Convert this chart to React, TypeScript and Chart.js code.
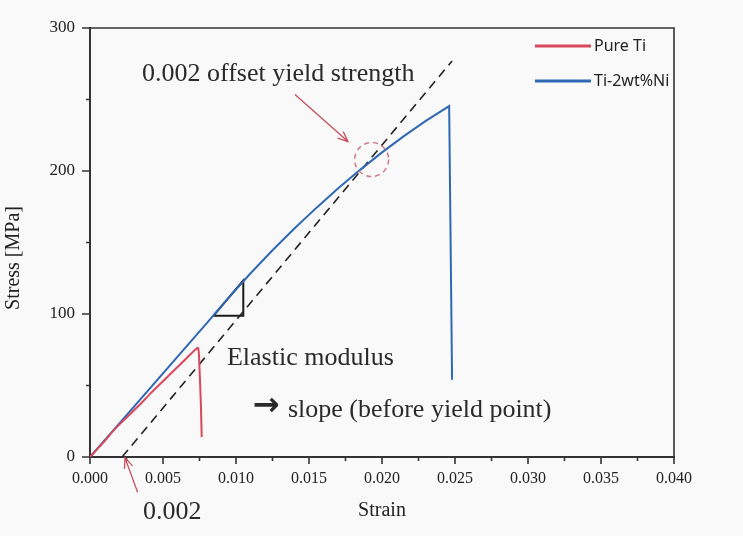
import { useEffect, useRef } from "react";
import { Chart, registerables } from "chart.js";

Chart.register(...registerables);

// ---- data ----
const pureTiStrain = [0, 0.0009, 0.0017, 0.0026, 0.0034, 0.0042, 0.005, 0.0058, 0.0064, 0.0069, 0.0074, 0.0075, 0.0076, 0.00765];
const pureTiStress = [0, 10, 19.5, 28.5, 36.5, 45, 53, 61, 67, 72, 76.3, 62, 35, 14];

const tiNiStrain = [0, 0.002, 0.004, 0.006, 0.008, 0.0095, 0.011, 0.0125, 0.014, 0.0155, 0.017, 0.0185, 0.02, 0.0215, 0.023, 0.0246, 0.0247, 0.0248];
const tiNiStress = [0, 23.4, 46.8, 70.2, 93.6, 111.5, 128.5, 144.6, 159.8, 174.2, 187.9, 200.8, 213, 224.4, 235, 245.4, 150, 54];

const offsetStrain = [0.0022, 0.0248];
const offsetStress = [0, 277];

const triangleStrain = [0.00845, 0.0105, 0.0105, 0.00845];
const triangleStress = [98.7, 123.5, 98.7, 98.7];

const xTickLabels = ["0.000", "0.005", "0.010", "0.015", "0.020", "0.025", "0.030", "0.035", "0.040"];
const yTickLabels = ["0", "100", "200", "300"];

const seriesNames = ["Pure Ti", "Ti-2wt%Ni"];
const seriesColors = ["#d9485a", "#2f68b4"];

const toPoints = (xs: number[], ys: number[]) => xs.map((x, i) => ({ x, y: ys[i] }));

const SERIF = "'Liberation Serif', 'Times New Roman', serif";
const SANS = "'Noto Sans', 'Open Sans', sans-serif";

const drawArrow = (ctx: CanvasRenderingContext2D, x1: number, y1: number, x2: number, y2: number) => {
  const ang = Math.atan2(y2 - y1, x2 - x1);
  const h = 11;
  ctx.beginPath();
  ctx.moveTo(x1, y1);
  ctx.lineTo(x2, y2);
  ctx.moveTo(x2 - h * Math.cos(ang - 0.4), y2 - h * Math.sin(ang - 0.4));
  ctx.lineTo(x2, y2);
  ctx.lineTo(x2 - h * Math.cos(ang + 0.4), y2 - h * Math.sin(ang + 0.4));
  ctx.stroke();
};

const overlayPlugin = {
  id: "overlay",
  beforeDraw(chart: any) {
    const ctx = chart.ctx as CanvasRenderingContext2D;
    ctx.save();
    ctx.fillStyle = "#f9f9f9";
    ctx.fillRect(0, 0, chart.width, chart.height);
    ctx.restore();
  },
  afterDraw(chart: any) {
    const ctx = chart.ctx as CanvasRenderingContext2D;
    const xs = chart.scales.x;
    const ys = chart.scales.y;
    const { left, right, top, bottom } = chart.chartArea;
    const px = (v: number) => xs.getPixelForValue(v);
    const py = (v: number) => ys.getPixelForValue(v);
    ctx.save();

    // frame top/right
    ctx.strokeStyle = "#333";
    ctx.lineWidth = 1.6;
    ctx.beginPath();
    ctx.moveTo(left, top);
    ctx.lineTo(right, top);
    ctx.lineTo(right, bottom);
    ctx.stroke();

    // ticks (outward, major + minor)
    ctx.lineWidth = 1.6;
    ctx.beginPath();
    for (let i = 0; i <= 16; i++) {
      const x = px(i * 0.0025);
      const len = i % 2 === 0 ? 7 : 4;
      ctx.moveTo(x, bottom);
      ctx.lineTo(x, bottom + len);
    }
    for (let i = 0; i <= 6; i++) {
      const y = py(i * 50);
      const len = i % 2 === 0 ? 8 : 4;
      ctx.moveTo(left, y);
      ctx.lineTo(left - len, y);
    }
    ctx.stroke();

    // axis titles
    ctx.fillStyle = "#222";
    ctx.font = `20px ${SERIF}`;
    ctx.textAlign = "center";
    ctx.textBaseline = "middle";
    ctx.fillText("Strain", (left + right) / 2, 511);
    ctx.save();
    ctx.translate(14, 258);
    ctx.rotate(-Math.PI / 2);
    ctx.fillText("Stress [MPa]", 0, 0);
    ctx.restore();

    // dashed circle at yield point
    ctx.strokeStyle = "#d07a88";
    ctx.lineWidth = 1.5;
    ctx.setLineDash([5, 4]);
    ctx.beginPath();
    ctx.arc(px(0.01929), py(208), 17, 0, Math.PI * 2);
    ctx.stroke();
    ctx.setLineDash([]);

    // arrows
    ctx.strokeStyle = "#c4505e";
    ctx.lineWidth = 1.3;
    drawArrow(ctx, px(0.01404), py(253.5), px(0.01767), py(220.6));
    drawArrow(ctx, px(0.00326), py(-24.6), px(0.0024), py(-0.6));

    // annotation texts
    ctx.fillStyle = "#2a2a2a";
    ctx.font = `26px ${SERIF}`;
    ctx.textAlign = "left";
    ctx.textBaseline = "middle";
    ctx.fillText("0.002 offset yield strength", px(0.00356), py(268));
    ctx.fillText("Elastic modulus", px(0.00938), py(69.2));
    ctx.fillText("slope (before yield point)", px(0.01356), py(32.7));
    ctx.fillText("0.002", px(0.00363), py(-38.5));
    ctx.font = `bold 32px 'DejaVu Sans', sans-serif`;
    ctx.fillText("\u2192", px(0.01115), py(35));

    // legend
    ctx.font = `16px ${SANS}`;
    ctx.textBaseline = "middle";
    seriesNames.forEach((name, i) => {
      const y = top + 18 + i * 35;
      ctx.strokeStyle = seriesColors[i];
      ctx.lineWidth = 3;
      ctx.beginPath();
      ctx.moveTo(right - 139, y);
      ctx.lineTo(right - 83, y);
      ctx.stroke();
      ctx.fillStyle = "#222";
      ctx.fillText(name, right - 80, y);
    });

    ctx.restore();
  },
};

export default function App() {
  const ref = useRef<HTMLCanvasElement>(null);

  useEffect(() => {
    if (!ref.current) return;
    const chart = new Chart(ref.current, {
      type: "scatter",
      data: {
        datasets: [
          {
            label: seriesNames[0],
            data: toPoints(pureTiStrain, pureTiStress),
            showLine: true,
            borderColor: seriesColors[0],
            borderWidth: 2,
            pointRadius: 0,
            tension: 0.2,
          },
          {
            label: seriesNames[1],
            data: toPoints(tiNiStrain, tiNiStress),
            showLine: true,
            borderColor: seriesColors[1],
            borderWidth: 2,
            pointRadius: 0,
            tension: 0,
          },
          {
            label: "offset",
            data: toPoints(offsetStrain, offsetStress),
            showLine: true,
            borderColor: "#222",
            borderWidth: 1.6,
            borderDash: [9, 6],
            pointRadius: 0,
          },
          {
            label: "triangle",
            data: toPoints(triangleStrain, triangleStress),
            showLine: true,
            borderColor: "#1a1a1a",
            borderWidth: 2,
            pointRadius: 0,
          },
        ],
      },
      options: {
        responsive: false,
        animation: false,
        devicePixelRatio: 1,
        layout: { padding: { left: 0, right: 69, top: 28, bottom: 0 } },
        plugins: { legend: { display: false }, tooltip: { enabled: false } },
        scales: {
          x: {
            type: "linear",
            min: 0,
            max: 0.04,
            afterFit: (axis: any) => {
              axis.height = 79;
            },
            afterBuildTicks: (axis: any) => {
              axis.ticks = xTickLabels.map((t) => ({ value: parseFloat(t) }));
            },
            ticks: {
              callback: (_v: any, i: number) => xTickLabels[i],
              font: { family: SERIF, size: 16 },
              color: "#222",
              padding: 12,
              maxRotation: 0,
              autoSkip: false,
            },
            grid: { display: true, drawOnChartArea: false, drawTicks: false },
            border: { display: true, color: "#333", width: 2 },
          },
          y: {
            type: "linear",
            min: 0,
            max: 300,
            afterFit: (axis: any) => {
              axis.width = 90;
            },
            afterBuildTicks: (axis: any) => {
              axis.ticks = yTickLabels.map((t) => ({ value: parseFloat(t) }));
            },
            ticks: {
              callback: (_v: any, i: number) => yTickLabels[i],
              font: { family: SERIF, size: 17 },
              color: "#222",
              padding: 15,
            },
            grid: { display: true, drawOnChartArea: false, drawTicks: false },
            border: { display: true, color: "#333", width: 2 },
          },
        },
      },
      plugins: [overlayPlugin],
    });
    return () => chart.destroy();
  }, []);

  return (
    <div style={{ position: "absolute", left: 0, top: 0, width: 743, height: 536 }}>
      <canvas ref={ref} width={743} height={536} style={{ width: 743, height: 536 }} />
    </div>
  );
}
